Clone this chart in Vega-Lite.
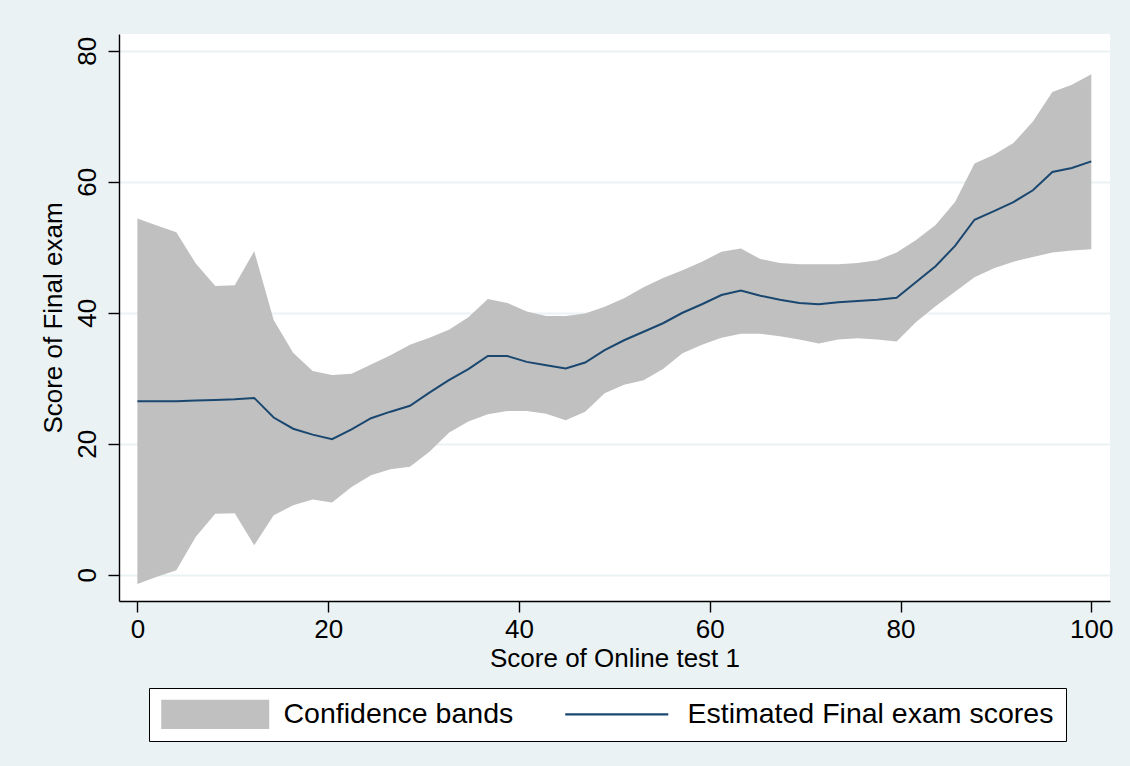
{
  "$schema": "https://vega.github.io/schema/vega-lite/v6.json",
  "width": 991,
  "height": 567,
  "autosize": {"type": "none"},
  "padding": {"left": 119, "top": 34, "right": 20, "bottom": 165},
  "background": "#EAF2F3",
  "view": {"fill": "white", "stroke": null},
  "config": {
    "font": "Liberation Sans",
    "axis": {
      "domainColor": "black",
      "domainWidth": 1.4,
      "tickColor": "black",
      "tickWidth": 1.4,
      "tickSize": 11,
      "labelColor": "black",
      "titleColor": "black",
      "labelFontSize": 26,
      "titleFontSize": 26,
      "titleFontWeight": "normal",
      "labelFont": "Liberation Sans",
      "titleFont": "Liberation Sans"
    },
    "legend": {
      "labelFont": "Liberation Sans"
    }
  },
  "datasets": {
    "est": [
      {"x": 0, "lo": -1.4, "est": 26.5, "hi": 54.4},
      {"x": 2.041, "lo": -0.3, "est": 26.5, "hi": 53.3},
      {"x": 4.082, "lo": 0.7, "est": 26.5, "hi": 52.3},
      {"x": 6.122, "lo": 5.8, "est": 26.6, "hi": 47.5},
      {"x": 8.163, "lo": 9.3, "est": 26.7, "hi": 44.1},
      {"x": 10.204, "lo": 9.4, "est": 26.8, "hi": 44.2},
      {"x": 12.245, "lo": 4.5, "est": 27.0, "hi": 49.4},
      {"x": 14.286, "lo": 9.1, "est": 24.0, "hi": 38.9},
      {"x": 16.327, "lo": 10.6, "est": 22.3, "hi": 33.9},
      {"x": 18.367, "lo": 11.5, "est": 21.4, "hi": 31.1},
      {"x": 20.408, "lo": 11.05, "est": 20.7, "hi": 30.5},
      {"x": 22.449, "lo": 13.4, "est": 22.2, "hi": 30.7},
      {"x": 24.49, "lo": 15.2, "est": 23.9, "hi": 32.1},
      {"x": 26.531, "lo": 16.1, "est": 24.9, "hi": 33.5},
      {"x": 28.571, "lo": 16.5, "est": 25.8, "hi": 35.1},
      {"x": 30.612, "lo": 18.8, "est": 27.8, "hi": 36.2},
      {"x": 32.653, "lo": 21.7, "est": 29.7, "hi": 37.4},
      {"x": 34.694, "lo": 23.4, "est": 31.4, "hi": 39.3},
      {"x": 36.735, "lo": 24.5, "est": 33.4, "hi": 42.1},
      {"x": 38.776, "lo": 25.0, "est": 33.4, "hi": 41.5},
      {"x": 40.816, "lo": 25.0, "est": 32.5, "hi": 40.2},
      {"x": 42.857, "lo": 24.6, "est": 32.0, "hi": 39.5},
      {"x": 44.898, "lo": 23.6, "est": 31.5, "hi": 39.5},
      {"x": 46.939, "lo": 24.9, "est": 32.4, "hi": 39.9},
      {"x": 48.98, "lo": 27.7, "est": 34.3, "hi": 40.9},
      {"x": 51.02, "lo": 29.0, "est": 35.8, "hi": 42.2},
      {"x": 53.061, "lo": 29.7, "est": 37.1, "hi": 43.9},
      {"x": 55.102, "lo": 31.4, "est": 38.4, "hi": 45.3},
      {"x": 57.143, "lo": 33.8, "est": 40.0, "hi": 46.5},
      {"x": 59.184, "lo": 35.1, "est": 41.3, "hi": 47.8},
      {"x": 61.224, "lo": 36.2, "est": 42.7, "hi": 49.3},
      {"x": 63.265, "lo": 36.8, "est": 43.4, "hi": 49.8},
      {"x": 65.306, "lo": 36.8, "est": 42.6, "hi": 48.2},
      {"x": 67.347, "lo": 36.4, "est": 42.0, "hi": 47.6},
      {"x": 69.388, "lo": 35.9, "est": 41.5, "hi": 47.4},
      {"x": 71.429, "lo": 35.3, "est": 41.3, "hi": 47.4},
      {"x": 73.469, "lo": 35.9, "est": 41.6, "hi": 47.4},
      {"x": 75.51, "lo": 36.1, "est": 41.8, "hi": 47.6},
      {"x": 77.551, "lo": 35.9, "est": 42.0, "hi": 48.0},
      {"x": 79.592, "lo": 35.6, "est": 42.3, "hi": 49.2},
      {"x": 81.633, "lo": 38.6, "est": 44.7, "hi": 51.1},
      {"x": 83.673, "lo": 41.0, "est": 47.1, "hi": 53.4},
      {"x": 85.714, "lo": 43.2, "est": 50.2, "hi": 56.9},
      {"x": 87.755, "lo": 45.4, "est": 54.2, "hi": 62.8},
      {"x": 89.796, "lo": 46.8, "est": 55.5, "hi": 64.1},
      {"x": 91.837, "lo": 47.8, "est": 56.9, "hi": 65.9},
      {"x": 93.878, "lo": 48.5, "est": 58.7, "hi": 69.2},
      {"x": 95.918, "lo": 49.2, "est": 61.5, "hi": 73.7},
      {"x": 97.959, "lo": 49.5, "est": 62.1, "hi": 74.8},
      {"x": 100, "lo": 49.7, "est": 63.1, "hi": 76.4}
    ],
    "series": [
      {"series": "Confidence bands"},
      {"series": "Estimated Final exam scores"}
    ]
  },
  "layer": [
    {
      "data": {"name": "est"},
      "mark": {"type": "area", "opacity": 1, "color": "#C0C0C0"},
      "encoding": {
        "x": {
          "field": "x",
          "type": "quantitative",
          "scale": {"domain": [-1.93, 101.96], "nice": false, "zero": false},
          "axis": {
            "values": [0, 20, 40, 60, 80, 100],
            "grid": false,
            "title": "Score of Online test 1",
            "labelPadding": 4,
            "titlePadding": 3
          }
        },
        "y": {
          "field": "lo",
          "type": "quantitative",
          "scale": {"domain": [-4.0, 82.55], "nice": false, "zero": false},
          "axis": {
            "values": [0, 20, 40, 60, 80],
            "grid": true,
            "gridColor": "#EAF2F3",
            "gridWidth": 2,
            "title": "Score of Final exam",
            "labelAngle": -90,
            "labelAlign": "center",
            "labelBaseline": "bottom",
            "labelPadding": 8,
            "titlePadding": 8
          }
        },
        "y2": {"field": "hi"}
      }
    },
    {
      "data": {"name": "est"},
      "mark": {"type": "line", "strokeWidth": 2, "color": "#1A476F"},
      "encoding": {
        "x": {"field": "x", "type": "quantitative"},
        "y": {"field": "est", "type": "quantitative"}
      }
    },
    {
      "data": {"name": "series"},
      "mark": {"type": "point", "filled": true, "opacity": 0, "size": 784},
      "encoding": {
        "color": {
          "field": "series",
          "type": "nominal",
          "scale": {
            "domain": ["Confidence bands", "Estimated Final exam scores"],
            "range": ["#C0C0C0", "#1A476F"]
          },
          "legend": {
            "title": null,
            "orient": "none",
            "direction": "horizontal",
            "columns": 2,
            "legendX": 30,
            "legendY": 654,
            "padding": 12,
            "strokeColor": "black",
            "fillColor": "white",
            "labelFontSize": 28.5,
            "labelColor": "black",
            "labelLimit": 0,
            "labelOffset": 94,
            "columnPadding": 51,
            "symbolSize": 784,
            "symbolOpacity": 1,
            "symbolStrokeWidth": 0,
            "labelExpr": "datum.label === 'Estimated Final exam scores' ? datum.label + '\u00a0\u00a0' : datum.label"
          }
        },
        "shape": {
          "field": "series",
          "type": "nominal",
          "scale": {
            "domain": ["Confidence bands", "Estimated Final exam scores"],
            "range": ["M-1,-1.036H6.714V1.036H-1Z", "M-1,-0.072H6.36V0.072H-1Z"]
          },
          "legend": {
            "title": null,
            "orient": "none",
            "direction": "horizontal",
            "columns": 2,
            "legendX": 30,
            "legendY": 654,
            "padding": 12,
            "strokeColor": "black",
            "fillColor": "white",
            "labelFontSize": 28.5,
            "labelColor": "black",
            "labelLimit": 0,
            "labelOffset": 94,
            "columnPadding": 51,
            "symbolSize": 784,
            "symbolOpacity": 1,
            "symbolStrokeWidth": 0,
            "labelExpr": "datum.label === 'Estimated Final exam scores' ? datum.label + '\u00a0\u00a0' : datum.label"
          }
        }
      }
    }
  ]
}
